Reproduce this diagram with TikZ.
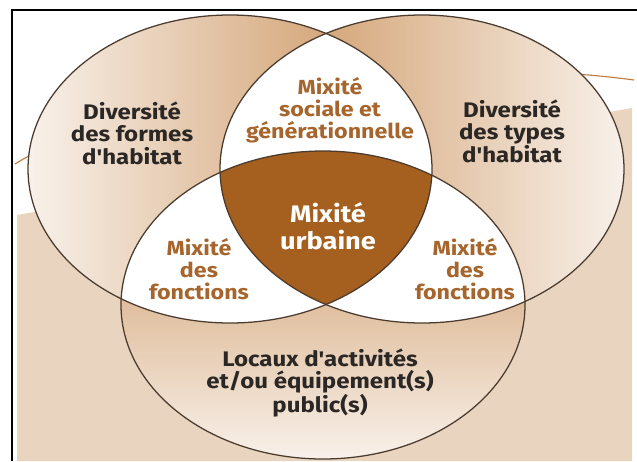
\documentclass[tikz,border=0pt]{standalone}
\usepackage{fontspec}
\newfontfamily\vennfont{Fira Sans}
\usetikzlibrary{positioning}
\usepackage{xcolor}
\definecolor{backbeige}{HTML}{E9D5BF}
\definecolor{lobelight}{HTML}{F8F1EA}
\definecolor{lobemid}{HTML}{E2C3A2}
\definecolor{lobedark}{HTML}{C98E55}
\definecolor{coreBrown}{HTML}{A55F1F}
\definecolor{lobeline}{HTML}{4B3B2F}
\definecolor{labeldark}{HTML}{2B2724}
\definecolor{labelbrown}{HTML}{A6652C}
\definecolor{swoosh}{HTML}{C27B3E}
\tikzset{%
	lobe edge/.style={
		draw=lobeline,
		line width=0.9pt
	},
	dark label/.style={
		align=center,
		inner sep=0pt,
		xscale=1.14,
		transform shape,
		text=labeldark,
		font=\vennfont\bfseries\fontsize{15}{16}\selectfont
	},
	brown label/.style={
		dark label,
		text=labelbrown,
		font=\vennfont\bfseries\fontsize{14.5}{15.5}\selectfont
	},
}
\newcommand{\lobeL}{(cL) ellipse [x radius=202, y radius=154]}
\newcommand{\lobeR}{(cR) ellipse [x radius=202, y radius=154]}
\newcommand{\lobeB}{(cB) ellipse [x radius=202, y radius=154]}

\begin{document}
\begin{tikzpicture}[x=0.025cm, y=-0.025cm]
				\useasboundingbox (0,0) rectangle (637,461);
				\fill[white] (0,0) rectangle (637,461);
				
				% background band and frame
				\fill[backbeige] (17,461) -- (17,215) -- (632,108) -- (632,461) -- cycle;
				\draw[swoosh, line width=0.8pt] (15,164) .. controls (150,80) and (450,55) .. (634,80);
				\draw[black, line width=1pt] (12,461) -- (12,10) -- (637,10);
				
				% the three sets
				\coordinate (cL) at (230,169);
				\coordinate (cR) at (422,169);
				\coordinate (cB) at (323,305);
				\shade[left color=lobelight, middle color=lobemid, right color=lobedark] \lobeL;
				\shade[left color=lobedark, middle color=lobemid, right color=lobelight] \lobeR;
				\shade[top color=lobedark, middle color=lobemid!90!lobedark, bottom color=lobelight] \lobeB;
				
				% pairwise overlaps
				\begin{scope}\clip \lobeL; \fill[white] \lobeR; \end{scope}
				\begin{scope}\clip \lobeL; \fill[white] \lobeB; \end{scope}
				\begin{scope}\clip \lobeR; \fill[white] \lobeB; \end{scope}
				
				% centre
				\begin{scope}\clip \lobeL; \clip \lobeR; \fill[coreBrown] \lobeB; \end{scope}
				
				\draw[lobe edge] \lobeL;
				\draw[lobe edge] \lobeR;
				\draw[lobe edge] \lobeB;
				
				% labels
				\node[dark label] (formes) at (132,133) {Diversité\\des formes\\d'habitat};
				\node[dark label] (types) at (512,131) {Diversité\\des types\\d'habitat};
				\node[brown label] (sociale) at (330,110) {Mixité\\sociale et\\générationnelle};
				\node[dark label, text=white, font=\vennfont\bfseries\fontsize{17}{19}\selectfont] (urbaine) at (328,226) {Mixité\\urbaine};
				\node[brown label] (fonctionsL) at (199,269) {Mixité\\des\\fonctions};
				\node[brown label] (fonctionsR) at (465,269) {Mixité\\des\\fonctions};
				\node[dark label] (locaux) at (320,383) {Locaux d'activités\\et/ou équipement(s)\\public(s)};
				
			\end{tikzpicture}
\end{document}
